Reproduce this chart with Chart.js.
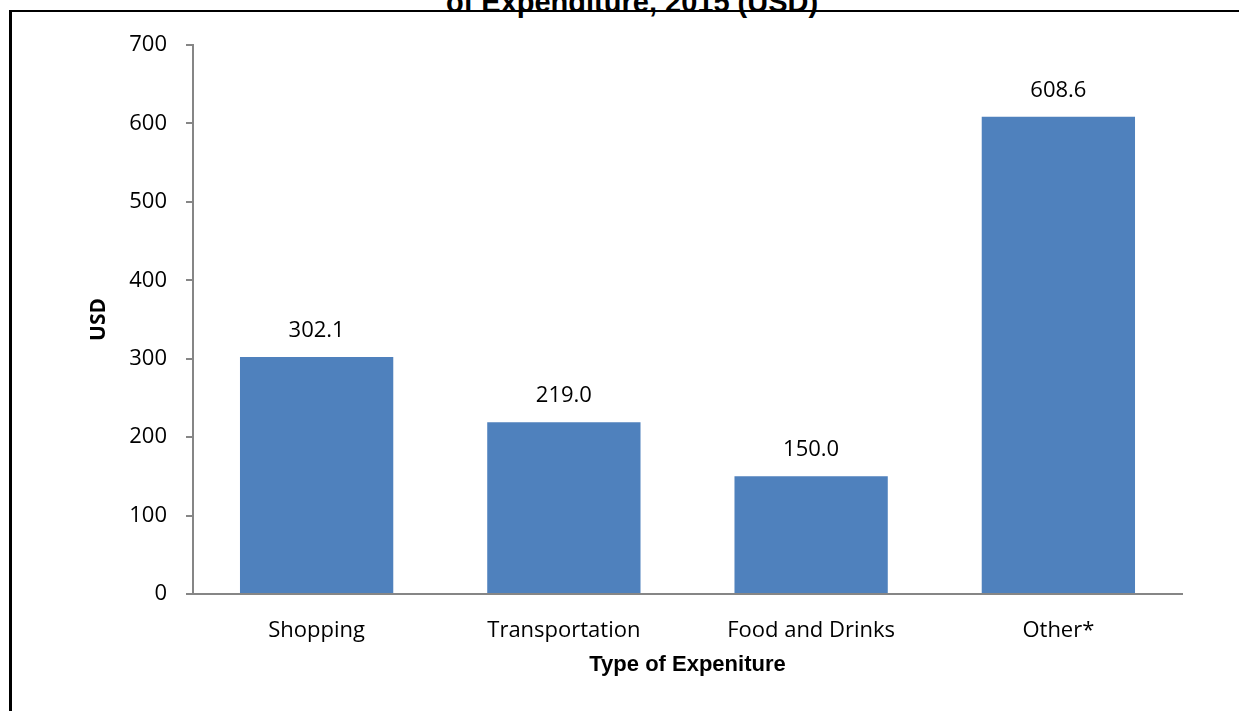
<!DOCTYPE html>
<html>
<head>
<meta charset="utf-8">
<script src="https://cdn.jsdelivr.net/npm/chart.js@4"></script>
<style>
  html, body { margin: 0; padding: 0; background: #fff; overflow: hidden; }
  #wrap { position: relative; width: 1239px; height: 711px; }
  #frame { position: absolute; left: 9px; top: 10px; width: 1300px; height: 800px;
           border-left: 3px solid #000; border-top: 2px solid #000; }
  #title { position: absolute; left: 0; width: 1264px; top: -12px; text-align: center;
           font: bold 29px "Liberation Sans", Arial, sans-serif; line-height: 28px; color: #000; }
  canvas { position: absolute; left: 0; top: 0; }
</style>
</head>
<body>
<div id="wrap">
  <div id="frame"></div>
  <div id="title">of Expenditure, 2015 (USD)</div>
  <canvas id="chart" width="1239" height="711"></canvas>
</div>
<script>
const categories = ["Shopping", "Transportation", "Food and Drinks", "Other*"];
const spending = [302.1, 219.0, 150.0, 608.6];
const yTicks = [0, 100, 200, 300, 400, 500, 600, 700];

const labelFont = '"Open Sans", sans-serif';

// value labels above each bar
const valueLabels = {
    id: "valueLabels",
    afterDatasetsDraw(chart) {
        const ctx = chart.ctx;
        const meta = chart.getDatasetMeta(0);
        ctx.save();
        ctx.font = "22px " + labelFont;
        ctx.fillStyle = "#000";
        ctx.textAlign = "center";
        ctx.textBaseline = "alphabetic";
        meta.data.forEach(function (bar, i) {
            ctx.fillText(spending[i].toFixed(1), bar.x, bar.y - 20);
        });
        ctx.restore();
    }
};

new Chart(document.getElementById("chart"), {
    type: "bar",
    data: {
        labels: categories,
        datasets: [{
            data: spending,
            backgroundColor: "#4F81BD",
            borderWidth: 0,
            barPercentage: 0.62,
            categoryPercentage: 1.0
        }]
    },
    options: {
        responsive: false,
        animation: false,
        layout: { padding: { top: 45, right: 57, bottom: 0, left: 0 } },
        plugins: {
            legend: { display: false },
            tooltip: { enabled: false }
        },
        scales: {
            x: {
                afterFit: function (scale) { scale.height = 117; },
                grid: { display: false },
                border: { color: "#868686", width: 2 },
                ticks: {
                    color: "#000",
                    padding: 16,
                    font: { family: labelFont, size: 22 }
                },
                title: {
                    display: true,
                    text: "Type of Expeniture",
                    color: "#000",
                    font: { family: '"Liberation Sans", Arial, sans-serif', size: 22, weight: "bold" },
                    padding: { top: 0, bottom: 33 }
                }
            },
            y: {
                min: 0,
                max: 700,
                afterFit: function (scale) { scale.width = 193; },
                afterBuildTicks: function (scale) {
                    scale.ticks = yTicks.map(function (v) { return { value: v }; });
                },
                grid: {
                    drawOnChartArea: false,
                    drawTicks: true,
                    tickLength: 7,
                    color: "#868686",
                    lineWidth: 2
                },
                border: { color: "#868686", width: 2 },
                ticks: {
                    color: "#000",
                    padding: 19,
                    font: { family: labelFont, size: 22 }
                },
                title: {
                    display: true,
                    text: "USD",
                    color: "#000",
                    font: { family: labelFont, size: 21, weight: "bold" },
                    padding: { top: 86, bottom: 0 }
                }
            }
        }
    },
    plugins: [valueLabels]
});
</script>
</body>
</html>
